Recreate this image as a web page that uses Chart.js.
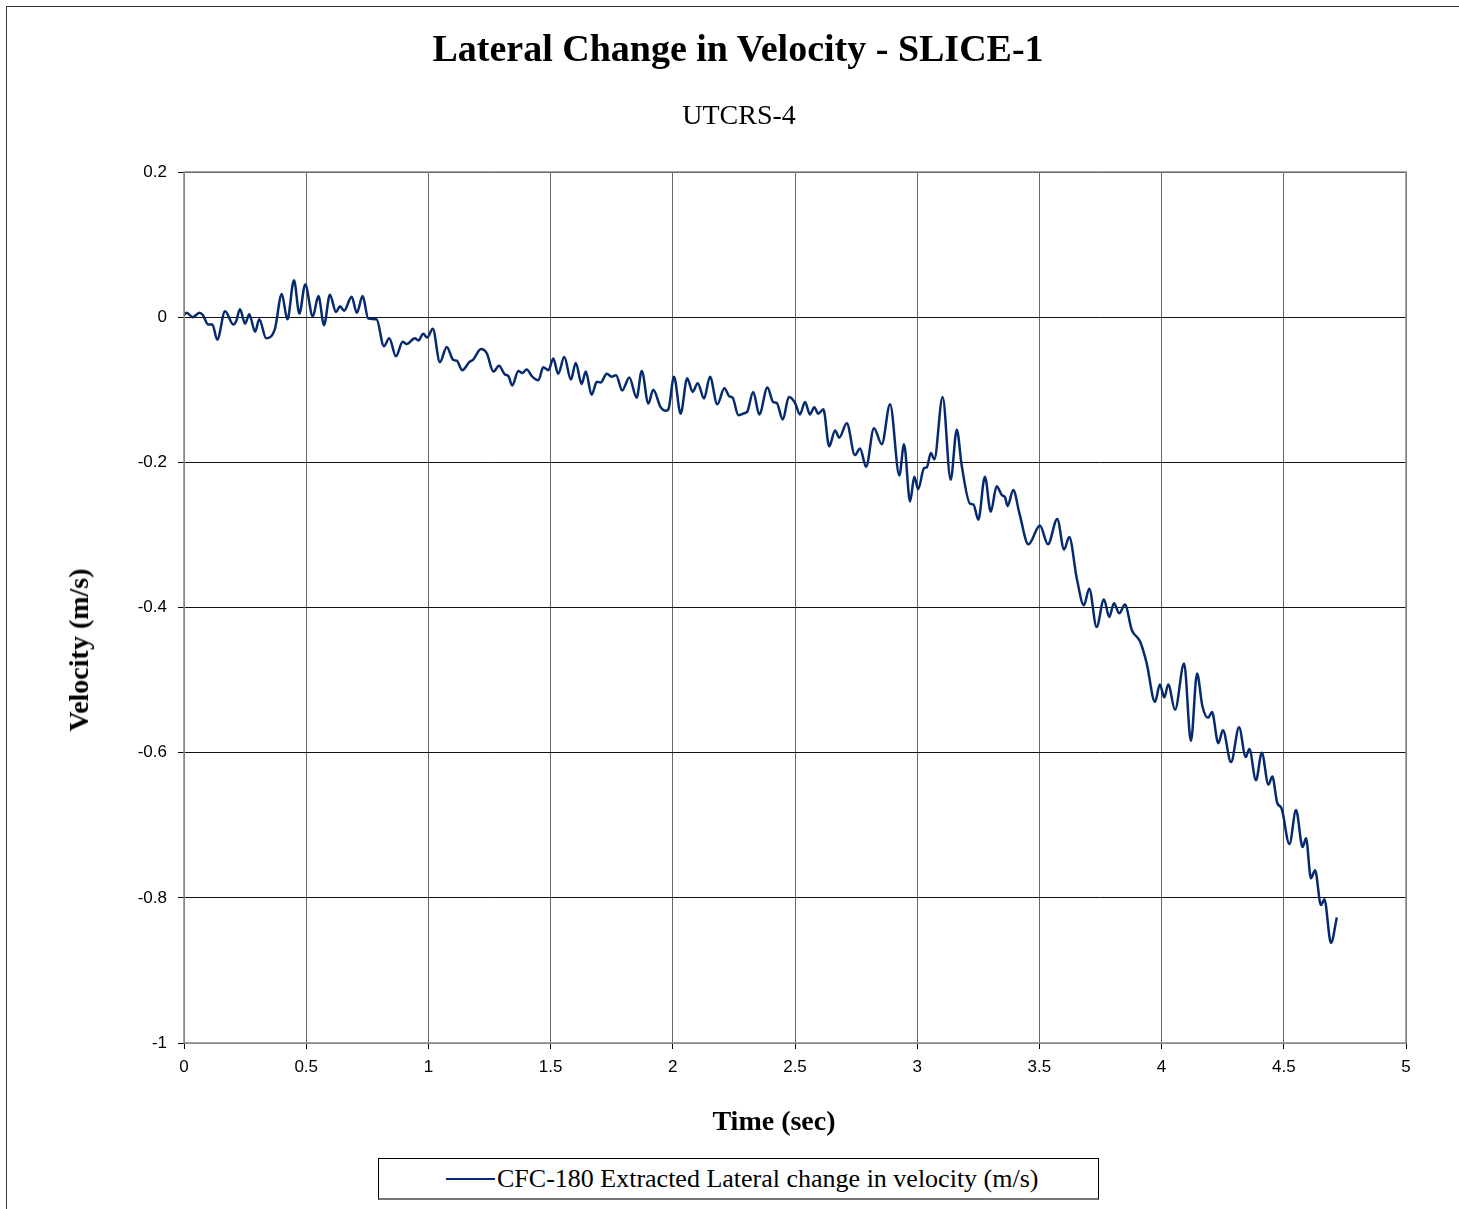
<!DOCTYPE html>
<html>
<head>
<meta charset="utf-8">
<title>Lateral Change in Velocity - SLICE-1</title>
<script src="https://cdn.jsdelivr.net/npm/chart.js@4.4.1/dist/chart.umd.min.js"></script>
<style>
  html, body { margin: 0; padding: 0; background: #fff; overflow: hidden; }
  #wrap { position: relative; width: 1459px; height: 1209px; font-family: "Liberation Serif", "Times New Roman", serif; color: #000; }
  #frame {
    position: absolute; left: 6px; top: 6px; width: 1470px; height: 1220px;
    border-top: 1px solid #333; border-left: 1px solid #333;
  }
  #chart { position: absolute; left: 0; top: 0; }
  .lbl { position: absolute; white-space: nowrap; transform: translate(-50%, -50%); line-height: 1; }
  #title { left: 738px; top: 48px; font-size: 38px; font-weight: bold; }
  #subtitle { left: 739px; top: 115px; font-size: 28px; }
  #xTitle { left: 774px; top: 1121px; font-size: 28px; font-weight: bold; }
  #yTitle { left: 79px; top: 650px; font-size: 28px; font-weight: bold; transform: translate(-50%, -50%) rotate(-90deg); }
  #legend {
    position: absolute; left: 378px; top: 1158px; width: 721px; height: 42px;
    border: 1px solid #000; border-bottom: 2px solid #777; box-sizing: border-box;
    font-size: 26px; display: flex; align-items: center; padding-left: 67px; background: #fff;
  }
  #legend .swatch { display: inline-block; width: 49px; height: 0; border-top: 2.5px solid #062a6e; margin-right: 2px; }
</style>
</head>
<body>
<div id="wrap">
  <div id="frame"></div>
  <canvas id="chart" width="1459" height="1209"></canvas>
  <div class="lbl" id="title">Lateral Change in Velocity - SLICE-1</div>
  <div class="lbl" id="subtitle">UTCRS-4</div>
  <div class="lbl" id="yTitle">Velocity (m/s)</div>
  <div class="lbl" id="xTitle">Time (sec)</div>
  <div id="legend"><span class="swatch"></span><span id="legendText"></span></div>
</div>
<script>
// ------------------- Data -------------------
const seriesLabel = "CFC-180 Extracted Lateral change in velocity (m/s)";

const timeSec = [
  0.000, 0.011, 0.036, 0.063, 0.077, 0.099, 0.116, 0.136, 0.168, 0.202,
  0.213, 0.229, 0.250, 0.267, 0.291, 0.308, 0.336, 0.372, 0.400, 0.423,
  0.450, 0.472, 0.496, 0.527, 0.550, 0.573, 0.597, 0.622, 0.638, 0.655,
  0.686, 0.707, 0.731, 0.754, 0.788, 0.818, 0.840, 0.867, 0.895, 0.911,
  0.945, 0.959, 0.979, 0.995, 1.018, 1.047, 1.075, 1.102, 1.116, 1.139,
  1.167, 1.184, 1.215, 1.239, 1.266, 1.289, 1.313, 1.327, 1.343, 1.368,
  1.384, 1.402, 1.425, 1.450, 1.470, 1.491, 1.511, 1.531, 1.556, 1.583,
  1.603, 1.627, 1.644, 1.668, 1.689, 1.705, 1.730, 1.750, 1.768, 1.793,
  1.822, 1.852, 1.873, 1.900, 1.920, 1.950, 1.972, 1.982, 2.005, 2.032,
  2.059, 2.081, 2.102, 2.128, 2.152, 2.182, 2.211, 2.231, 2.245, 2.268,
  2.295, 2.305, 2.329, 2.354, 2.387, 2.411, 2.425, 2.450, 2.475, 2.500,
  2.520, 2.541, 2.561, 2.579, 2.595, 2.616, 2.640, 2.664, 2.681, 2.712,
  2.745, 2.766, 2.791, 2.823, 2.855, 2.889, 2.927, 2.946, 2.971, 2.988,
  3.004, 3.028, 3.039, 3.056, 3.070, 3.104, 3.137, 3.162, 3.182, 3.216,
  3.230, 3.250, 3.277, 3.301, 3.325, 3.346, 3.359, 3.370, 3.393, 3.418,
  3.455, 3.502, 3.535, 3.573, 3.601, 3.622, 3.653, 3.682, 3.704, 3.734,
  3.764, 3.786, 3.805, 3.827, 3.850, 3.878, 3.912, 3.939, 3.973, 3.993,
  4.011, 4.027, 4.055, 4.092, 4.120, 4.145, 4.167, 4.190, 4.206, 4.232,
  4.251, 4.284, 4.317, 4.344, 4.359, 4.386, 4.410, 4.437, 4.453, 4.473,
  4.491, 4.523, 4.550, 4.577, 4.591, 4.611, 4.628, 4.652, 4.666, 4.693,
  4.717
];

const lateralVel = [
   0.003,  0.006,  0.000,  0.006,  0.003, -0.010, -0.010, -0.031,  0.008, -0.010,
  -0.006,  0.011, -0.009,  0.004, -0.020, -0.003, -0.029, -0.016,  0.032, -0.003,
   0.051,  0.005,  0.045,  0.001,  0.029, -0.011,  0.031,  0.007,  0.015,  0.009,
   0.028,  0.006,  0.029, -0.002, -0.003, -0.040, -0.029, -0.054, -0.034, -0.037,
  -0.029, -0.032, -0.023, -0.028, -0.016, -0.062, -0.041, -0.059, -0.060, -0.073,
  -0.062, -0.058, -0.044, -0.050, -0.075, -0.067, -0.079, -0.081, -0.094, -0.074,
  -0.077, -0.072, -0.082, -0.087, -0.069, -0.073, -0.057, -0.078, -0.055, -0.086,
  -0.063, -0.092, -0.075, -0.107, -0.089, -0.090, -0.078, -0.082, -0.080, -0.101,
  -0.083, -0.111, -0.074, -0.119, -0.100, -0.124, -0.129, -0.127, -0.082, -0.133,
  -0.084, -0.103, -0.091, -0.112, -0.082, -0.120, -0.098, -0.109, -0.111, -0.135,
  -0.132, -0.130, -0.103, -0.134, -0.097, -0.117, -0.118, -0.141, -0.110, -0.118,
  -0.134, -0.117, -0.134, -0.124, -0.133, -0.127, -0.178, -0.156, -0.166, -0.146,
  -0.190, -0.181, -0.206, -0.153, -0.175, -0.120, -0.218, -0.175, -0.254, -0.220,
  -0.237, -0.208, -0.207, -0.187, -0.196, -0.110, -0.224, -0.155, -0.204, -0.257,
  -0.258, -0.279, -0.220, -0.268, -0.233, -0.245, -0.248, -0.260, -0.238, -0.270,
  -0.313, -0.287, -0.313, -0.278, -0.320, -0.303, -0.360, -0.397, -0.374, -0.427,
  -0.389, -0.413, -0.394, -0.408, -0.396, -0.431, -0.447, -0.477, -0.530, -0.506,
  -0.524, -0.506, -0.541, -0.477, -0.584, -0.491, -0.536, -0.552, -0.544, -0.587,
  -0.569, -0.613, -0.565, -0.606, -0.595, -0.638, -0.600, -0.644, -0.633, -0.669,
  -0.677, -0.726, -0.679, -0.730, -0.718, -0.773, -0.762, -0.810, -0.802, -0.862,
  -0.827
];

const xMin = 0, xMax = 5, xStep = 0.5;
const yMin = -1, yMax = 0.2, yStep = 0.2;

// ------------------- Chart -------------------
document.getElementById("legendText").textContent = seriesLabel;

const points = timeSec.map((t, i) => ({ x: t, y: lateralVel[i] }));
const sans = "'Liberation Sans', Arial, sans-serif";
const fmt = (v) => String(Number(v.toFixed(1)));

new Chart(document.getElementById("chart"), {
  type: "line",
  data: {
    datasets: [{
      label: seriesLabel,
      data: points,
      borderColor: "#062a6e",
      borderWidth: 2.5,
      pointRadius: 0,
      fill: false,
      cubicInterpolationMode: "monotone"
    }]
  },
  options: {
    responsive: false,
    animation: false,
    devicePixelRatio: 1,
    layout: { padding: { left: 0, right: 53, top: 172, bottom: 106 } },
    plugins: {
      legend: { display: false },
      tooltip: { enabled: false }
    },
    scales: {
      x: {
        type: "linear",
        min: xMin,
        max: xMax,
        afterFit: (scale) => { scale.height = 60; },
        ticks: {
          stepSize: xStep,
          color: "#000",
          padding: 8,
          font: { family: sans, size: 17 },
          callback: fmt
        },
        grid: { color: "#666", lineWidth: 1, tickLength: 6, tickColor: "#000" },
        border: { color: "#888", width: 1 }
      },
      y: {
        min: yMin,
        max: yMax,
        afterFit: (scale) => { scale.width = 184; },
        ticks: {
          stepSize: yStep,
          color: "#000",
          padding: 11,
          font: { family: sans, size: 17 },
          callback: fmt
        },
        grid: { color: "#111", lineWidth: 1, tickLength: 6, tickColor: "#000" },
        border: { color: "#888", width: 1 }
      }
    }
  },
  plugins: [{
    // gray frame around the plotting area, like the reference
    id: "plotFrame",
    afterDraw(chart) {
      const { ctx, chartArea: a } = chart;
      ctx.save();
      ctx.strokeStyle = "#888";
      ctx.lineWidth = 1.5;
      ctx.strokeRect(a.left, a.top, a.right - a.left, a.bottom - a.top);
      ctx.restore();
    }
  }]
});
</script>
</body>
</html>
